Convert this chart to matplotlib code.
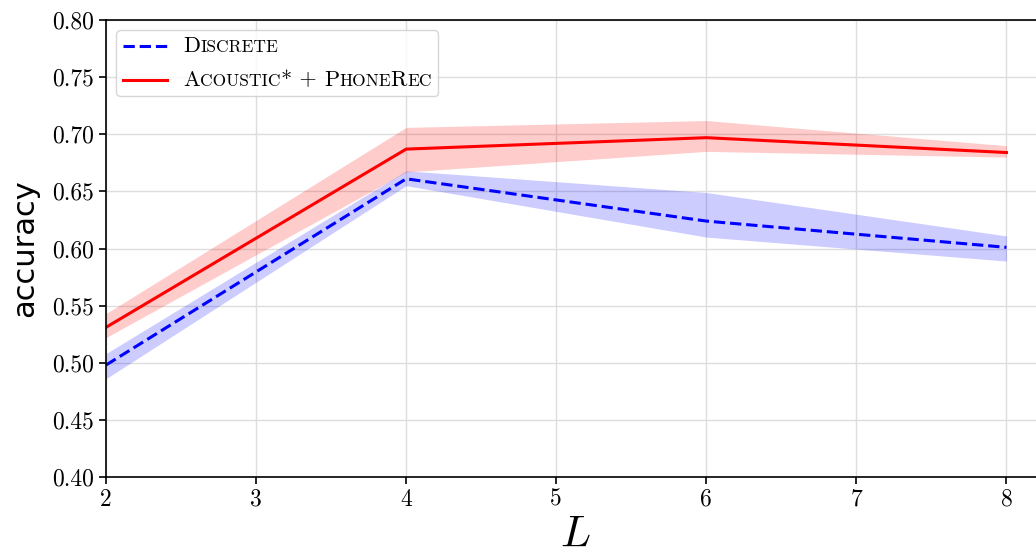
"""
Accuracy vs. L for Discrete and Acoustic* + PhoneRec
"""
import matplotlib
matplotlib.use('Agg')
import matplotlib.pyplot as plt
from matplotlib.lines import Line2D
from matplotlib.offsetbox import TextArea, HPacker, VPacker, DrawingArea, AnchoredOffsetbox

# Data
L = [2, 4, 6, 8]
discrete_mean = [0.498, 0.661, 0.624, 0.601]
discrete_lo = [0.486, 0.655, 0.610, 0.589]
discrete_hi = [0.508, 0.668, 0.649, 0.611]
phonerec_mean = [0.531, 0.687, 0.697, 0.684]
phonerec_lo = [0.522, 0.667, 0.685, 0.680]
phonerec_hi = [0.543, 0.706, 0.712, 0.690]

yticks = [0.40, 0.45, 0.50, 0.55, 0.60, 0.65, 0.70, 0.75, 0.80]
xticks = [2, 3, 4, 5, 6, 7, 8]

plt.rcParams['font.family'] = ['cmr10', 'DejaVu Serif']
plt.rcParams['mathtext.fontset'] = 'cm'
plt.rcParams['axes.formatter.use_mathtext'] = True

fig = plt.figure(figsize=(10.36, 5.52), dpi=100)
ax = fig.add_axes([106 / 1036, 75 / 552, 938 / 1036, 457 / 552])

ax.fill_between(L, discrete_lo, discrete_hi, color='blue', alpha=0.2, linewidth=0)
ax.fill_between(L, phonerec_lo, phonerec_hi, color='red', alpha=0.2, linewidth=0)
ax.plot(L, discrete_mean, color='blue', linestyle='--', linewidth=2.2)
ax.plot(L, phonerec_mean, color='red', linestyle='-', linewidth=2.2)

ax.set_xlim(2, 8.25)
ax.set_ylim(0.40, 0.80)
ax.set_xticks(xticks)
ax.set_xticklabels([str(x) for x in xticks])
ax.set_yticks(yticks)
ax.set_yticklabels(['%.2f' % y for y in yticks])
ax.tick_params(labelsize=17, length=5, width=1.2)
ax.grid(True, color='#dddddd', linewidth=1)
ax.set_axisbelow(True)
for s in ax.spines.values():
    s.set_linewidth(1.2)

ax.set_ylabel('accuracy', family='DejaVu Sans', fontsize=22)
ax.yaxis.set_label_coords(-0.071, 0.5)
ax.set_xlabel('$L$', fontsize=32)
ax.xaxis.set_label_coords(0.5, -0.085)

# Legend with small-caps style labels
big, small = 16, 12.5


def handle(color, ls):
    da = DrawingArea(32, 10, 0, 0)
    da.add_artist(Line2D([0, 32], [5, 5], color=color, linestyle=ls, linewidth=2.2))
    return da


def label(parts):
    boxes = [TextArea(t, textprops=dict(fontsize=s, family=['cmr10', 'DejaVu Serif']))
             for t, s in parts]
    return HPacker(children=boxes, sep=0, pad=0, align='baseline')


row1 = HPacker(children=[handle('blue', '--'),
                         label([('D', big), ('ISCRETE', small)])],
               sep=12, pad=0, align='center')
row2 = HPacker(children=[handle('red', '-'),
                         label([('A', big), ('COUSTIC', small), ('*', big), (' + ', big),
                                ('P', big), ('HONE', small), ('R', big), ('EC', small)])],
               sep=12, pad=0, align='center')
legend_box = VPacker(children=[row1, row2], sep=10, pad=0, align='left')
anchored = AnchoredOffsetbox(loc='upper left', child=legend_box, pad=0.45, borderpad=0.75,
                             frameon=True, bbox_to_anchor=(0, 1), bbox_transform=ax.transAxes)
anchored.patch.set_boxstyle('round,pad=0,rounding_size=0.3')
anchored.patch.set_edgecolor('0.8')
anchored.patch.set_facecolor('white')
anchored.patch.set_alpha(0.8)
ax.add_artist(anchored)

fig.savefig('out.png', dpi=100)
